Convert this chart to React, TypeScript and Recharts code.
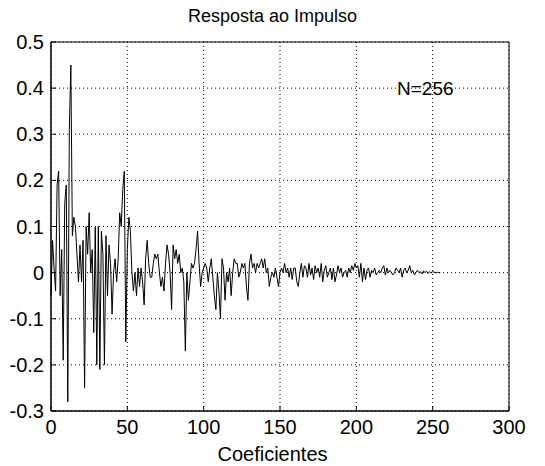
import { LineChart, Line, XAxis, YAxis, CartesianGrid, ReferenceArea } from 'recharts';

// Impulse response coefficients (n = 0..255)
const coefs: number[] = [
  -0.05, 0.07, 0.01, -0.04, 0.19, 0.22, -0.05, 0.05, -0.19, 0.15, 0.19, -0.28, 0.31, 0.45, 0.08, 0.12,
  0.1, 0.04, -0.02, 0.06, -0.02, 0.07, -0.25, 0.1, 0.04, 0.13, 0.0, 0.05, -0.13, 0.1, -0.2, 0.1,
  -0.21, 0.09, 0.04, -0.2, 0.08, -0.05, 0.06, 0.02, -0.09, 0.0, 0.03, -0.02, 0.03, 0.13, 0.1, 0.18,
  0.22, -0.15, 0.05, 0.12, 0.09, 0.0, -0.04, 0.0, -0.05, 0.01, -0.03, 0.01, -0.02, -0.07, 0.03, 0.07,
  0.02, -0.01, -0.01, 0.02, 0.04, 0.03, 0.04, 0.0, -0.03, -0.01, -0.04, 0.02, 0.06, 0.04, 0.0, -0.08,
  0.06, 0.03, 0.05, 0.02, 0.04, 0.0, 0.01, -0.02, -0.17, 0.0, -0.06, -0.02, 0.02, 0.01, 0.02, 0.05,
  0.09, 0.02, -0.03, 0.0, 0.01, 0.02, 0.01, -0.02, 0.01, 0.03, -0.01, -0.05, -0.08, 0.0, -0.04, -0.1,
  0.03, 0.01, -0.06, 0.0, -0.02, 0.01, -0.05, 0.0, 0.03, 0.02, 0.02, -0.01, 0.0, 0.02, 0.01, 0.02,
  -0.03, -0.06, 0.02, 0.04, 0.01, 0.02, 0.0, 0.02, 0.01, 0.02, 0.03, 0.01, 0.03, 0.0, 0.01, -0.03,
  -0.01, 0.0, -0.01, 0.01, -0.01, -0.03, 0.0, 0.01, 0.0, 0.02, 0.0, 0.01, -0.01, 0.01, -0.015, 0.01,
  0.01, -0.02, -0.03, 0.0, 0.02, -0.01, 0.015, 0.01, -0.01, 0.02, -0.005, 0.01, -0.015, 0.015, 0.0, 0.01,
  -0.01, 0.02, -0.02, 0.005, 0.015, -0.01, 0.0, 0.01, -0.015, 0.01, -0.02, -0.005, 0.015, 0.0, 0.01, -0.01,
  0.0, 0.005, -0.01, 0.01, 0.0, 0.015, 0.005, 0.02, 0.01, 0.015, -0.01, 0.02, -0.02, 0.01, -0.015, 0.005,
  0.01, -0.01, 0.005, 0.0, 0.01, -0.005, 0.0, 0.005, 0.0, 0.01, 0.015, -0.005, 0.01, 0.0, 0.005, 0.0,
  -0.005, 0.0, 0.01, 0.005, 0.0, 0.01, -0.01, 0.005, 0.01, 0.0, 0.005, 0.015, 0.0, 0.005, -0.005, 0.0,
  0.005, 0.0, 0.002, -0.003, 0.004, 0.0, 0.003, -0.002, 0.002, 0.0, 0.002, 0.001, 0.0, 0.001, 0.0, 0.0,
];

const xTicks = [0, 50, 100, 150, 200, 250, 300];
const yTicks = [-0.3, -0.2, -0.1, 0, 0.1, 0.2, 0.3, 0.4, 0.5];

const data = coefs.map((v, i) => ({ n: i, h: v }));

const font = '"Liberation Sans", Arial, sans-serif';

export default function App() {
  return (
    <div style={{ position: 'absolute', left: 0, top: 0, width: 545, height: 466, background: '#fff', fontFamily: font }}>
      <div style={{ position: 'absolute', left: 0, width: 545, top: 6, textAlign: 'center', fontSize: 18, color: '#000' }}>
        Resposta ao Impulso
      </div>
      <LineChart width={545} height={466} data={data} margin={{ top: 42, right: 36, bottom: 25, left: 11 }}>
        <CartesianGrid stroke="#000" strokeDasharray="1 3" />
        <XAxis
          dataKey="n"
          type="number"
          domain={[0, 300]}
          ticks={xTicks}
          interval={0}
          height={30}
          axisLine={{ stroke: '#000' }}
          tickLine={{ stroke: '#000' }}
          tickSize={-5}
          tickMargin={14}
          tick={{ fill: '#000', fontSize: 20, fontFamily: font }}
        />
        <YAxis
          type="number"
          domain={[-0.3, 0.5]}
          ticks={yTicks}
          interval={0}
          width={40}
          axisLine={{ stroke: '#000' }}
          tickLine={{ stroke: '#000' }}
          tickSize={-5}
          tickMargin={12}
          tickFormatter={(v: number) => String(Math.round(v * 10) / 10)}
          tick={{ fill: '#000', fontSize: 20, fontFamily: font }}
        />
        <ReferenceArea x1={0} x2={300} y1={-0.3} y2={0.5} fill="none" stroke="#000" strokeWidth={1} ifOverflow="visible" />
        <Line dataKey="h" type="linear" stroke="#000" strokeWidth={1} dot={false} isAnimationActive={false} />
      </LineChart>
      <div style={{ position: 'absolute', left: 397, top: 78, fontSize: 19, color: '#000' }}>N=256</div>
      <div style={{ position: 'absolute', left: 0, width: 545, top: 443, textAlign: 'center', fontSize: 20, color: '#000' }}>
        Coeficientes
      </div>
    </div>
  );
}
